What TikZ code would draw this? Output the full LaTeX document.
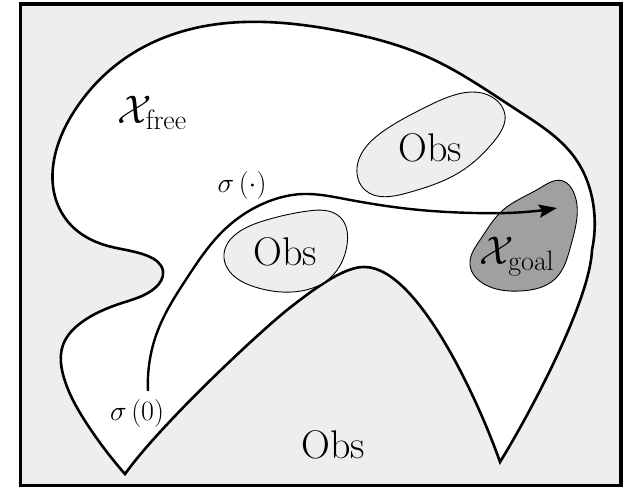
\RequirePackage{fix-cm}
\documentclass[tikz,border=0pt]{standalone}
\usetikzlibrary{arrows.meta,hobby}
\definecolor{obsgray}{HTML}{EEEEEE}
\definecolor{goalgray}{HTML}{A0A0A0}
\tikzset{
  frame/.style={draw=black, line width=3.5pt, fill=obsgray},
  freespace/.style={draw=black, line width=2.6pt, fill=white},
  obsblob/.style={draw=black, line width=0.9pt, fill=obsgray},
  goalblob/.style={draw=black, line width=0.9pt, fill=goalgray},
  traj/.style={draw=black, line width=2.4pt, -{Stealth[length=18pt,width=13pt,inset=3pt]}},
  biglabel/.style={inner sep=0pt, font=\fontsize{40}{44}\selectfont},
  smalllabel/.style={inner sep=0pt, font=\fontsize{28}{30}\selectfont}
}
\begin{document}
\begin{tikzpicture}[x=1pt,y=-1pt]
\useasboundingbox (0,0) rectangle (634,488);
% outer frame
\draw[frame] (20.5,4) rectangle (621,485.5);
% free space
\path[freespace] (125,474) to[curve through={
 (87,424) (64,378) (63,345) (82,322) (122,303) (155,288) (163,271)
 (148,256) (108,246) (75,229) (56,200) (54,160) (75,110) (130,55) (200,27)
 (265,22) (340,31) (430,58) (517,110) (575,158) (594,210)}] (592,250)
 .. controls (590,300) and (532,410) .. (500,462)
 .. controls (482,410) and (420,268) .. (365,267)
 .. controls (345,266) and (315,288) .. (287,310)
 .. controls (255,336) and (160,425) .. (125,474) -- cycle;
% upper obstacle
\path[obsblob, use Hobby shortcut, closed=true] (495,99) .. (505,115) .. (495,140)
 .. (460,172) .. (407,193) .. (365,190) .. (357,168) .. (385,130) .. (430,105);
% lower obstacle
\path[obsblob, use Hobby shortcut, closed=true] (224,258) .. (260,222) .. (308,211)
 .. (340,217) .. (347,245) .. (330,278) .. (292,292) .. (255,287) .. (230,272);
% goal region
\path[goalblob, use Hobby shortcut, closed=true] (520,291) .. (484,284) .. (470,265)
 .. (480,240) .. (503,210) .. (540,188) .. (563,181) .. (573,191) .. (571,245)
 .. (555,279);
% trajectory
\coordinate (s0) at (148,391);
\coordinate (sg) at (557,208);
\draw[traj] (s0) to[curve through={(158,330) (187,278) (222,232) (267,202) (303,194)
 (345,199) (410,209) (475,213) (525,212)}] (sg);
% labels
\node[biglabel] (xfree) at (152,113) {$\mathcal{X}_{\mathrm{free}}$};
\node[biglabel] (xgoal) at (517,257) {$\mathcal{X}_{\mathrm{goal}}$};
\node[biglabel] (obs1) at (430,148) {Obs};
\node[biglabel] (obs2) at (285,252) {Obs};
\node[biglabel] (obs3) at (333,445) {Obs};
\node[smalllabel] (sdot) at (242,185) {$\sigma\left(\cdot\right)$};
\node[smalllabel] (szero) at (137,413) {$\sigma\left(0\right)$};
\end{tikzpicture}
\end{document}
